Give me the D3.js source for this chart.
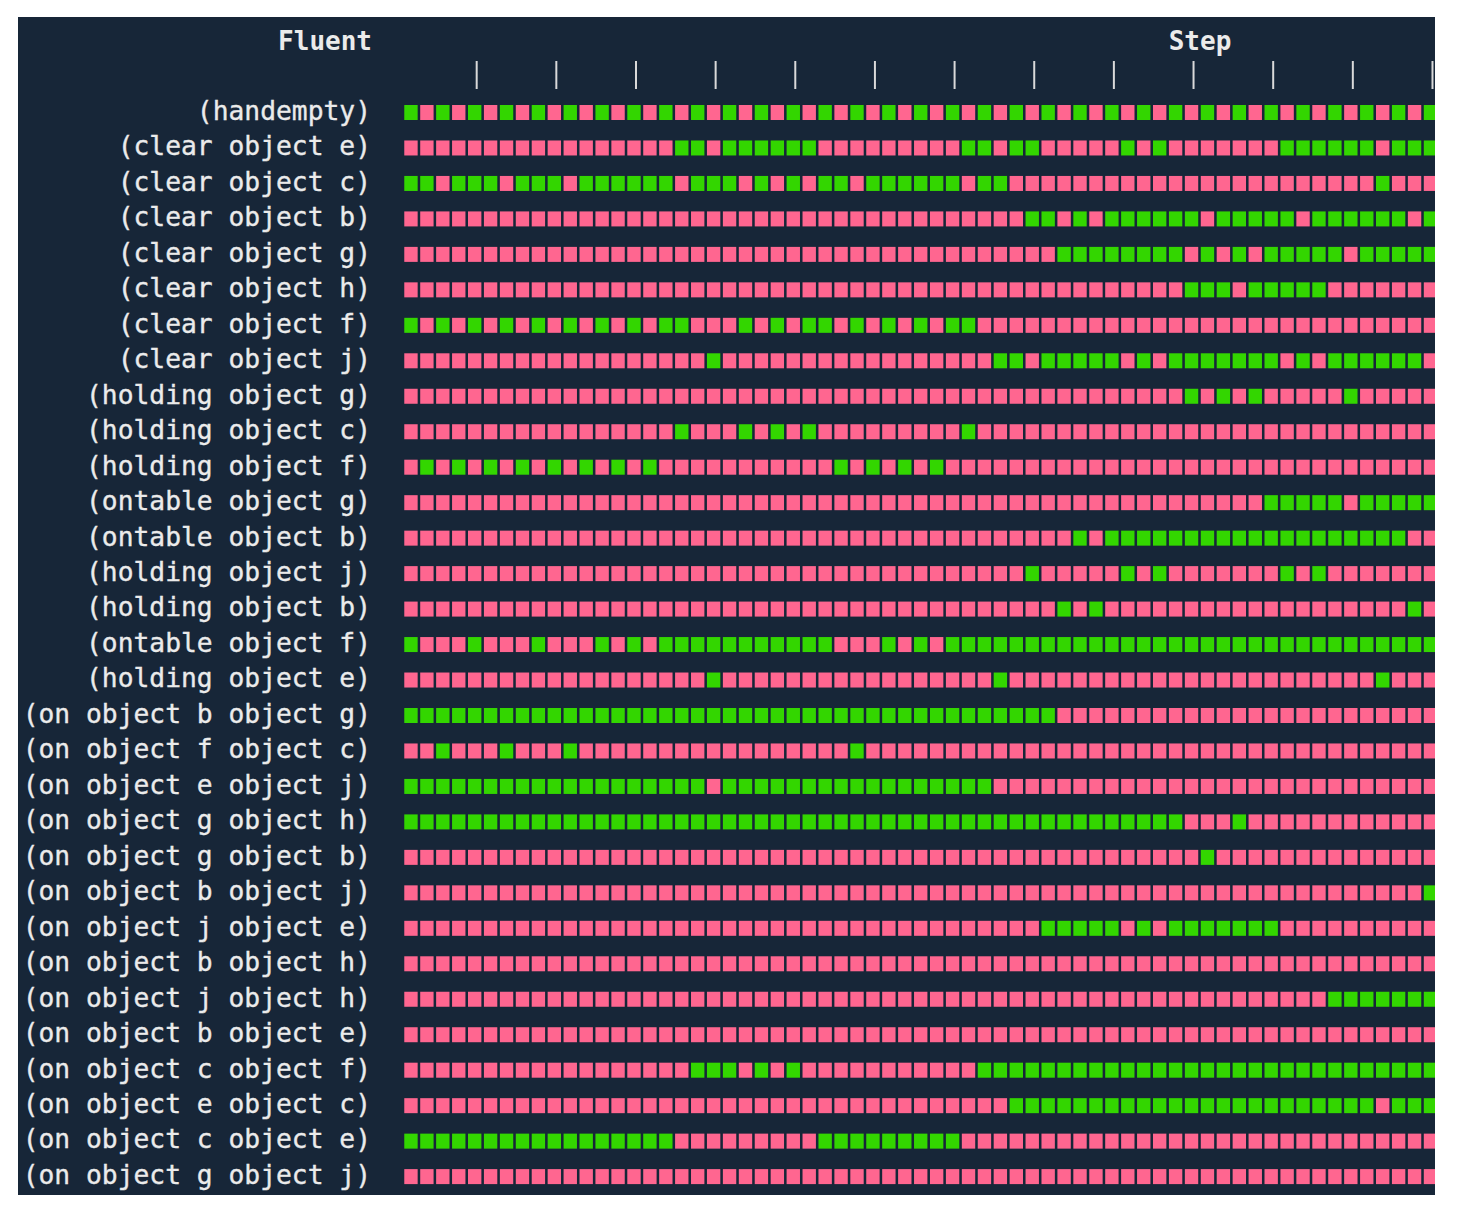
<!DOCTYPE html>
<html>
<head>
<meta charset="utf-8">
<script src="https://cdn.jsdelivr.net/npm/d3@7"></script>
<style>
  html, body { margin: 0; padding: 0; background: #ffffff; }
  svg { display: block; }
</style>
</head>
<body>
<svg id="chart" width="1467" height="1223"></svg>
<script>
// ---- DATA ----
const fluents = [
  "(handempty)",
  "(clear object e)",
  "(clear object c)",
  "(clear object b)",
  "(clear object g)",
  "(clear object h)",
  "(clear object f)",
  "(clear object j)",
  "(holding object g)",
  "(holding object c)",
  "(holding object f)",
  "(ontable object g)",
  "(ontable object b)",
  "(holding object j)",
  "(holding object b)",
  "(ontable object f)",
  "(holding object e)",
  "(on object b object g)",
  "(on object f object c)",
  "(on object e object j)",
  "(on object g object h)",
  "(on object g object b)",
  "(on object b object j)",
  "(on object j object e)",
  "(on object b object h)",
  "(on object j object h)",
  "(on object b object e)",
  "(on object c object f)",
  "(on object e object c)",
  "(on object c object e)",
  "(on object g object j)"
];

// one string per fluent, 1 = true (green), 0 = false (pink); grouped by 5 steps
const fluentValues = [
  "10101 01010 10101 01010 10101 01010 10101 01010 10101 01010 10101 01010 10101",
  "00000 00000 00000 00110 11111 10000 00000 11011 00000 10100 00000 11111 10111",
  "11011 10111 01111 11011 10101 01101 11111 01100 00000 00000 00000 00000 01000",
  "00000 00000 00000 00000 00000 00000 00000 00001 10101 11111 01111 10111 11101",
  "00000 00000 00000 00000 00000 00000 00000 00000 01111 11110 10101 11110 11111",
  "00000 00000 00000 00000 00000 00000 00000 00000 00000 00001 11011 11100 00000",
  "10101 01010 10101 01100 01010 11010 10101 10000 00000 00000 00000 00000 00000",
  "00000 00000 00000 00001 00000 00000 00000 00110 11111 01011 11111 01011 11110",
  "00000 00000 00000 00000 00000 00000 00000 00000 00000 00001 01010 00001 00000",
  "00000 00000 00000 00100 01010 10000 00000 10000 00000 00000 00000 00000 00000",
  "01010 10101 01010 10000 00000 00101 01010 00000 00000 00000 00000 00000 00000",
  "00000 00000 00000 00000 00000 00000 00000 00000 00000 00000 00001 11110 11111",
  "00000 00000 00000 00000 00000 00000 00000 00000 00101 11111 11111 11111 11100",
  "00000 00000 00000 00000 00000 00000 00000 00001 00000 10100 00000 10100 00000",
  "00000 00000 00000 00000 00000 00000 00000 00000 01010 00000 00000 00000 00010",
  "10001 00010 00101 01111 11111 11000 10101 11111 11111 11111 11111 11111 11111",
  "00000 00000 00000 00001 00000 00000 00000 00100 00000 00000 00000 00000 01000",
  "11111 11111 11111 11111 11111 11111 11111 11111 10000 00000 00000 00000 00000",
  "00100 01000 10000 00000 00000 00010 00000 00000 00000 00000 00000 00000 00000",
  "11111 11111 11111 11110 11111 11111 11111 11000 00000 00000 00000 00000 00000",
  "11111 11111 11111 11111 11111 11111 11111 11111 11111 11110 00100 00000 00000",
  "00000 00000 00000 00000 00000 00000 00000 00000 00000 00000 10000 00000 00000",
  "00000 00000 00000 00000 00000 00000 00000 00000 00000 00000 00000 00000 00001",
  "00000 00000 00000 00000 00000 00000 00000 00000 11111 01011 11111 00000 00000",
  "00000 00000 00000 00000 00000 00000 00000 00000 00000 00000 00000 00000 00000",
  "00000 00000 00000 00000 00000 00000 00000 00000 00000 00000 00000 00011 11111",
  "00000 00000 00000 00000 00000 00000 00000 00000 00000 00000 00000 00000 00000",
  "00000 00000 00000 00011 10101 00000 00000 01111 11111 11111 11111 11111 11111",
  "00000 00000 00000 00000 00000 00000 00000 00011 11111 11111 11111 11111 10111",
  "11111 11111 11111 11000 00000 01111 11111 00000 00000 00000 00000 00000 00000",
  "00000 00000 00000 00000 00000 00000 00000 00000 00000 00000 00000 00000 00000"
];

const stepCount = 65;
const tickSteps = [5, 10, 15, 20, 25, 30, 35, 40, 45, 50, 55, 60, 65];
const headerLabels = ["Fluent", "Step"];

// ---- BUILD ----
const steps = d3.range(1, stepCount + 1);
const cells = [];
fluents.forEach((f, i) => {
  const s = fluentValues[i].replace(/\s+/g, "");
  for (let k = 0; k < stepCount; k++) {
    cells.push({ fluent: f, step: steps[k], value: s[k] === "1" });
  }
});

const svg = d3.select("#chart");
const bg = { x: 18, y: 17, w: 1417, h: 1178 };
const colors = { bg: "#172638", on: "#33d600", off: "#ff6690", text: "#ebebeb" };
const mono = "'DejaVu Sans Mono', 'Liberation Mono', monospace";

svg.append("defs").append("clipPath").attr("id", "clip")
  .append("rect").attr("x", bg.x).attr("y", bg.y).attr("width", bg.w).attr("height", bg.h);

svg.append("rect")
  .attr("x", bg.x).attr("y", bg.y).attr("width", bg.w).attr("height", bg.h)
  .attr("fill", colors.bg);

const x = d3.scaleBand()
  .domain(steps)
  .range([403, 403 + 65 * 15.93])
  .paddingInner(0.16)
  .paddingOuter(0.08);

const y = d3.scaleBand()
  .domain(fluents)
  .range([94.77, 94.77 + 31 * 35.47])
  .paddingInner(0.577)
  .paddingOuter(0.2885);

const g = svg.append("g").attr("clip-path", "url(#clip)");

g.selectAll("rect.cell")
  .data(cells)
  .join("rect")
  .attr("class", "cell")
  .attr("x", d => x(d.step))
  .attr("y", d => y(d.fluent))
  .attr("width", x.bandwidth())
  .attr("height", y.bandwidth())
  .attr("fill", d => d.value ? colors.on : colors.off);

// step ticks
g.selectAll("line.tick")
  .data(tickSteps)
  .join("line")
  .attr("class", "tick")
  .attr("x1", d => x(d) + x.bandwidth() / 2 + 2)
  .attr("x2", d => x(d) + x.bandwidth() / 2 + 2)
  .attr("y1", 61)
  .attr("y2", 89)
  .attr("stroke", "#d9d9d9")
  .attr("stroke-width", 2);

// fluent labels
svg.selectAll("text.label")
  .data(fluents)
  .join("text")
  .attr("class", "label")
  .attr("x", 371)
  .attr("y", d => y(d) + y.bandwidth() / 2)
  .attr("dy", "0.28em")
  .attr("text-anchor", "end")
  .attr("font-family", mono)
  .attr("font-size", 26.3)
  .attr("fill", colors.text)
  .attr("stroke", colors.text)
  .attr("stroke-width", 0.35)
  .text(d => d);

// headers
svg.append("text")
  .attr("x", 372).attr("y", 50)
  .attr("text-anchor", "end")
  .attr("font-family", mono).attr("font-weight", "bold").attr("font-size", 26)
  .attr("fill", colors.text)
  .text(headerLabels[0]);

svg.append("text")
  .attr("x", 1200).attr("y", 50)
  .attr("text-anchor", "middle")
  .attr("font-family", mono).attr("font-weight", "bold").attr("font-size", 26)
  .attr("fill", colors.text)
  .text(headerLabels[1]);
</script>
</body>
</html>
